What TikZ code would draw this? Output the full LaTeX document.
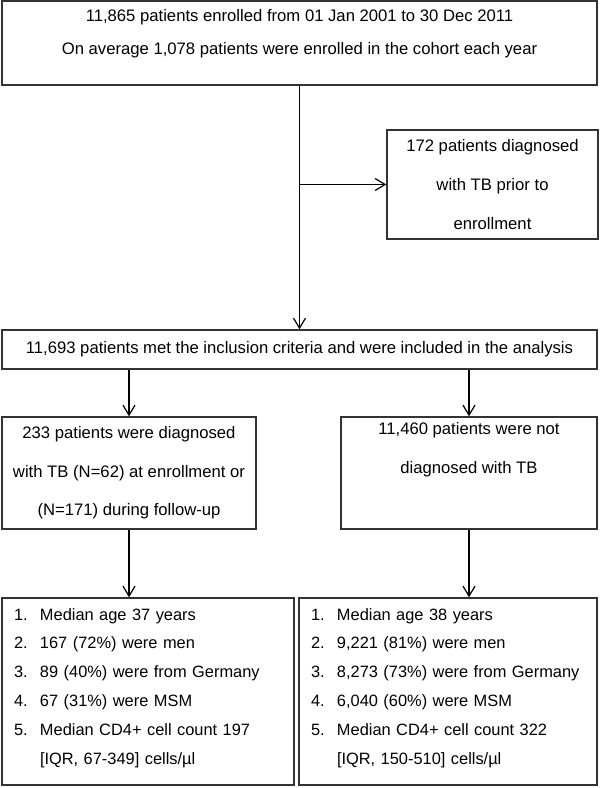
\documentclass[tikz,border=0pt]{standalone}
\usepackage{fontspec}
\setmainfont{Liberation Sans}
\usetikzlibrary{arrows.meta}

\begin{document}
\begin{tikzpicture}[x=0.75pt, y=-0.75pt,
		box/.style={draw=black!80, rectangle, line width=1.1pt, align=center, inner sep=0pt, font=\fontsize{12.5}{29}\selectfont},
		list/.style={draw=black!80, rectangle, line width=1.1pt, align=left, inner xsep=9pt, inner ysep=0pt, text height=16.5pt, text depth=123.75pt, font=\fontsize{12.3}{21.6}\selectfont},
		arr/.style={-{Straight Barb[length=7.5pt,width=9pt]}, line width=0.9pt}]
				\useasboundingbox (0,0) rectangle (600,788);
				\node[box, minimum width=446pt, text height=15.4pt, text depth=47.6pt, font=\fontsize{12.5}{24.75}\selectfont] (0) at (299.5,43) {\begin{tabular}[t]{@{}c@{}}
					11,865 patients enrolled from 01 Jan 2001 to 30 Dec 2011\\
					On average 1,078 patients were enrolled in the cohort each year
				\end{tabular}};
				\node[box, minimum width=158.25pt, minimum height=81.75pt] (1) at (492.5,184.5) {172 patients diagnosed\\with TB prior to\\enrollment};
				\node[box, minimum width=446pt, minimum height=29.25pt] (2) at (299.5,349.5) {11,693 patients met the inclusion criteria and were included in the analysis};
				\node[box, minimum width=190.5pt, minimum height=84pt] (3) at (129,473) {233 patients were diagnosed\\with TB (N=62) at enrollment or\\(N=171) during follow-up};
				\node[box, minimum width=192pt, minimum height=84pt] (4) at (469,473) {11,460 patients were not\\diagnosed with TB\\\strut};
				\node[list, text width=201pt] (5) at (148,691.5) {\begin{tabular}[t]{@{}p{19.5pt}@{}l@{}}
					1. & Median age 37 years\\
					2. & 167 (72\%) were men\\
					3. & 89 (40\%) were from Germany\\
					4. & 67 (31\%) were MSM\\
					5. & Median CD4+ cell count 197\\
					   & [IQR, 67-349] cells/µl
				\end{tabular}};
				\node[list, text width=205.5pt] (6) at (448,691.5) {\begin{tabular}[t]{@{}p{19.5pt}@{}l@{}}
					1. & Median age 38 years\\
					2. & 9,221 (81\%) were men\\
					3. & 8,273 (73\%) were from Germany\\
					4. & 6,040 (60\%) were MSM\\
					5. & Median CD4+ cell count 322\\
					   & [IQR, 150-510] cells/µl
				\end{tabular}};
				\coordinate (b) at (0.south |- 1.west);
				
				\draw[arr] (0) -- (2);
				\draw[arr] (b) -- (1);
				\draw[arr] (2.south -| 3) -- (3);
				\draw[arr] (2.south -| 4) -- (4);
				\draw[arr] (3) -- (3 |- 5.north);
				\draw[arr] (4) -- (4 |- 6.north);
\end{tikzpicture}
\end{document}
